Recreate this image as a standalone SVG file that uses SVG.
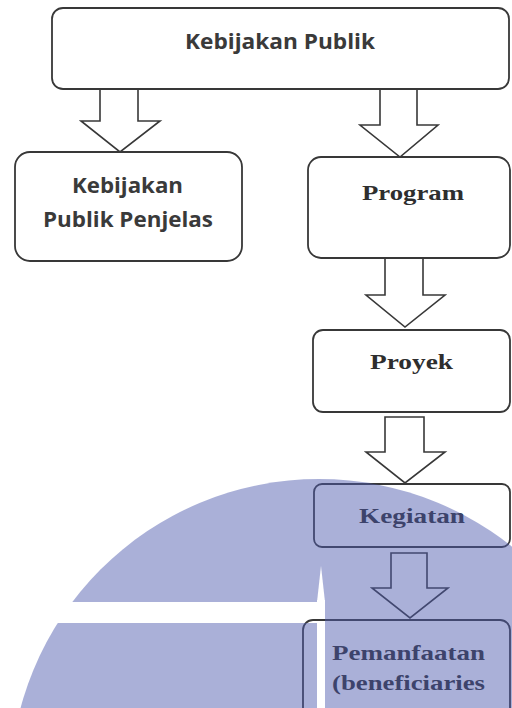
<svg xmlns="http://www.w3.org/2000/svg" width="512" height="708" viewBox="0 0 512 708">
<defs>
<style>
.box{fill:#ffffff;stroke:#383838;stroke-width:1.8}
.arr{fill:#ffffff;stroke:#383838;stroke-width:1.6;stroke-linejoin:miter}
.sans{font-family:"Open Sans","Liberation Sans",sans-serif;font-weight:bold;font-size:22px;fill:#3a3a3a}
.serif{font-family:"Liberation Serif","Times New Roman",serif;font-weight:bold;font-size:21px;fill:#2e2e2e}
</style>
<mask id="wmMask" maskUnits="userSpaceOnUse" x="0" y="0" width="512" height="708">
<rect x="0" y="0" width="512" height="708" fill="#000"/>
<circle cx="319" cy="788" r="309" fill="#fff"/>
<rect x="0" y="602" width="325" height="21" fill="#000"/>
<rect x="317" y="600" width="8" height="110" fill="#000"/>
<polygon points="321,566 317,602 325,602" fill="#000"/>
</mask>
</defs>
<rect x="0" y="0" width="512" height="708" fill="#ffffff"/>
<g id="connectors">
<polygon class="arr" points="100,89 138,89 138,121 160,121 120,152 81,121 100,121"/>
<polygon class="arr" points="380,89 417,89 417,125 438,125 400,157 360,125 380,125"/>
<polygon class="arr" points="385,258 423,258 423,295 445,295 405,327 366,295 385,295"/>
<polygon class="arr" points="385,417 424,417 424,452 445,452 405,483 366,452 385,452"/>
<polygon class="arr" points="391,553 427,553 427,588 448,588 410,618 372,588 391,588"/>
</g>
<g id="node-kebijakan-publik">
<rect class="box" x="52" y="8" width="457" height="81" rx="11"/>
<text class="sans" x="280" y="48.5" text-anchor="middle" textLength="190" lengthAdjust="spacingAndGlyphs">Kebijakan Publik</text>
</g>
<g id="node-penjelas">
<rect class="box" x="15" y="152" width="227" height="109" rx="15"/>
<text class="sans" x="127.5" y="193" text-anchor="middle" textLength="111" lengthAdjust="spacingAndGlyphs">Kebijakan</text>
<text class="sans" x="128" y="227" text-anchor="middle" textLength="170" lengthAdjust="spacingAndGlyphs">Publik Penjelas</text>
</g>
<g id="node-program">
<rect class="box" x="308" y="157" width="202" height="101" rx="13"/>
<text class="serif" x="413" y="200" text-anchor="middle" textLength="102" lengthAdjust="spacingAndGlyphs">Program</text>
</g>
<g id="node-proyek">
<rect class="box" x="313" y="330" width="197" height="82" rx="10"/>
<text class="serif" x="411.5" y="369" text-anchor="middle" textLength="83" lengthAdjust="spacingAndGlyphs">Proyek</text>
</g>
<g id="node-kegiatan">
<rect class="box" x="314" y="484" width="196" height="63" rx="8"/>
<text class="serif" x="412" y="523" text-anchor="middle" textLength="106" lengthAdjust="spacingAndGlyphs">Kegiatan</text>
</g>
<g id="node-pemanfaatan">
<rect class="box" x="303" y="620" width="207" height="100" rx="10"/>
<text class="serif" x="332" y="660" textLength="153" lengthAdjust="spacingAndGlyphs">Pemanfaatan</text>
<text class="serif" x="332" y="690" textLength="153" lengthAdjust="spacingAndGlyphs">(beneficiaries</text>
</g>
<g id="watermark">
<rect x="0" y="0" width="512" height="708" fill="#4d5aad" fill-opacity="0.48" mask="url(#wmMask)"/>
</g>
</svg>
